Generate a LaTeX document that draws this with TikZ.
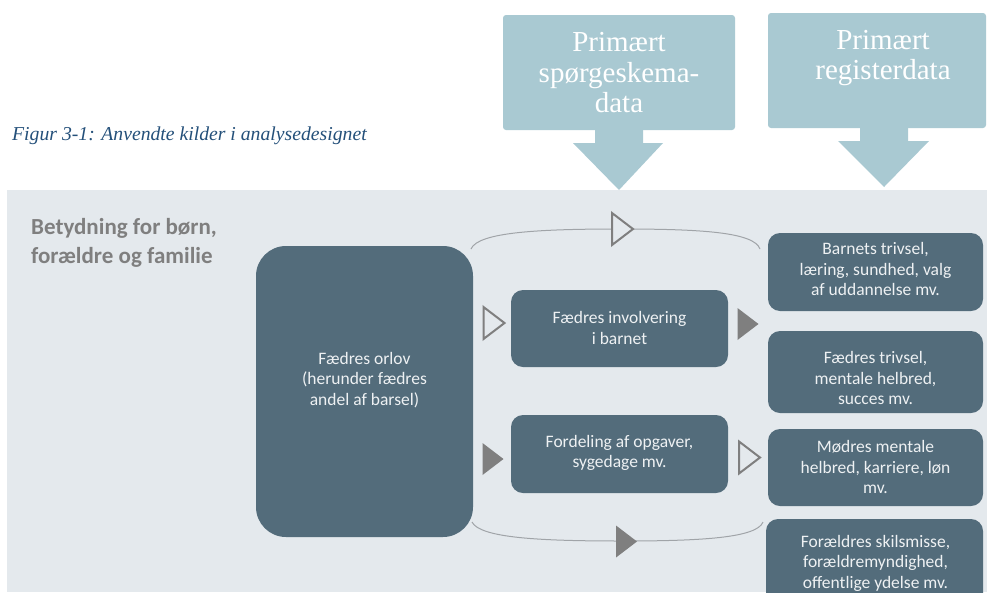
\documentclass[tikz,border=0pt]{standalone}
\usepackage{fontspec}
\setmainfont{Liberation Serif}
\newfontfamily\calfont{Carlito}
\definecolor{panelc}{HTML}{E4E9ED}
\definecolor{boxc}{HTML}{536C7B}
\definecolor{boxtxt}{HTML}{EEF1F3}
\definecolor{arrc}{HTML}{A9C9D2}
\definecolor{tric}{HTML}{7F7F7F}
\definecolor{curvec}{HTML}{A0A4A8}
\definecolor{titlec}{HTML}{24507A}
\definecolor{headc}{HTML}{7F7F7F}
\newcommand{\mytri}[3]{\draw[#3] (#1-10.5,#2-16) -- (#1+10.5,#2) -- (#1-10.5,#2+16) -- cycle;}
\begin{document}
\begin{tikzpicture}[x=1pt,y=-1pt,
  box/.style={fill=boxc, draw=none, inner sep=0pt},
  txt/.style={text=boxtxt, font=\calfont\fontsize{17.5}{20.5}\selectfont, align=center, inner sep=0pt},
  arrtxt/.style={text=white, font=\fontsize{29}{30.5}\selectfont, align=center, inner sep=0pt},
  arrshape/.style={fill=arrc, draw=none},
  opentri/.style={draw=tric, line width=2pt, fill=panelc, line join=miter},
  filltri/.style={fill=tric, draw=none},
  curve/.style={draw=curvec, line width=1pt}
]
\useasboundingbox (0,0) rectangle (987,592);
\fill[white] (0,0) rectangle (987,592);
% panel
\fill[panelc] (7,190) rectangle (987,592);
% title
\node[anchor=base west, inner sep=0pt, text=titlec, font=\fontsize{19.7}{22}\selectfont\itshape] (title) at (12,140) {Figur 3-1: Anvendte kilder i analysedesignet};
% heading
\node[anchor=north west, inner sep=0pt, text=headc, align=left, font=\calfont\bfseries\fontsize{23}{29}\selectfont] (head) at (31,218) {Betydning for børn,\\forældre og familie};
% top arrows
\fill[arrshape, rounded corners=3pt] (503,15) rectangle (735,130);
\fill[arrshape] (595,129) -- (643,129) -- (643,143) -- (663,143) -- (619,190) -- (573,143) -- (595,143) -- cycle;
\node[arrtxt] (a1) at (619,73) {Primært\\spørgeskema-\\data};
\fill[arrshape, rounded corners=3pt] (768,13) rectangle (986,128);
\fill[arrshape] (860,127) -- (908,127) -- (908,141) -- (929,141) -- (884,187) -- (838,141) -- (860,141) -- cycle;
\node[arrtxt] (a2) at (883,58) {Primært\\registerdata};
% boxes
\node[box, rounded corners=30pt, minimum width=217pt, minimum height=291pt] (orlov) at (364.5,391.5) {};
\node[txt] (orlovt) at (364.5,380) {Fædres orlov\\(herunder fædres\\andel af barsel)};
\node[box, rounded corners=12pt, minimum width=217pt, minimum height=77pt] (inv) at (619.5,328.5) {};
\node[txt] (invt) at (619.5,328) {Fædres involvering\\i barnet};
\node[box, rounded corners=12pt, minimum width=217pt, minimum height=78pt] (ford) at (619.5,454) {};
\node[txt] (fordt) at (619.5,453) {Fordeling af opgaver,\\sygedage mv.};
\node[box, rounded corners=12pt, minimum width=215pt, minimum height=78pt] (r1) at (875.5,272) {};
\node[txt] (r1t) at (875.5,269) {Barnets trivsel,\\læring, sundhed, valg\\af uddannelse mv.};
\node[box, rounded corners=12pt, minimum width=215pt, minimum height=82pt] (r2) at (875.5,372) {};
\node[txt] (r2t) at (875.5,378) {Fædres trivsel,\\mentale helbred,\\succes mv.};
\node[box, rounded corners=12pt, minimum width=215pt, minimum height=77pt] (r3) at (875.5,467.5) {};
\node[txt] (r3t) at (875.5,467) {Mødres mentale\\helbred, karriere, løn\\mv.};
\node[box, rounded corners=12pt, minimum width=217pt, minimum height=90pt] (r4) at (874.5,564) {};
\node[txt] (r4t) at (875.5,563) {Forældres skilsmisse,\\forældremyndighed,\\offentlige ydelse mv.};
% curved connectors
\coordinate (c1a) at (471,249);
\coordinate (c1m) at (620,229);
\coordinate (c1b) at (760,249);
\coordinate (c2a) at (472,522);
\coordinate (c2m) at (622,541);
\coordinate (c2b) at (763,522);
\draw[curve] (c1a) .. controls (478,232) and (540,229) .. (c1m) .. controls (700,229) and (754,232) .. (c1b);
\draw[curve] (c2a) .. controls (480,538) and (540,541) .. (c2m) .. controls (700,541) and (757,538) .. (c2b);
% triangles
\mytri{622.5}{229}{opentri}
\mytri{494}{323}{opentri}
\mytri{748}{324}{filltri}
\mytri{493}{459}{filltri}
\mytri{749.5}{457.5}{opentri}
\mytri{626.5}{541.5}{filltri}
\end{tikzpicture}
\end{document}
